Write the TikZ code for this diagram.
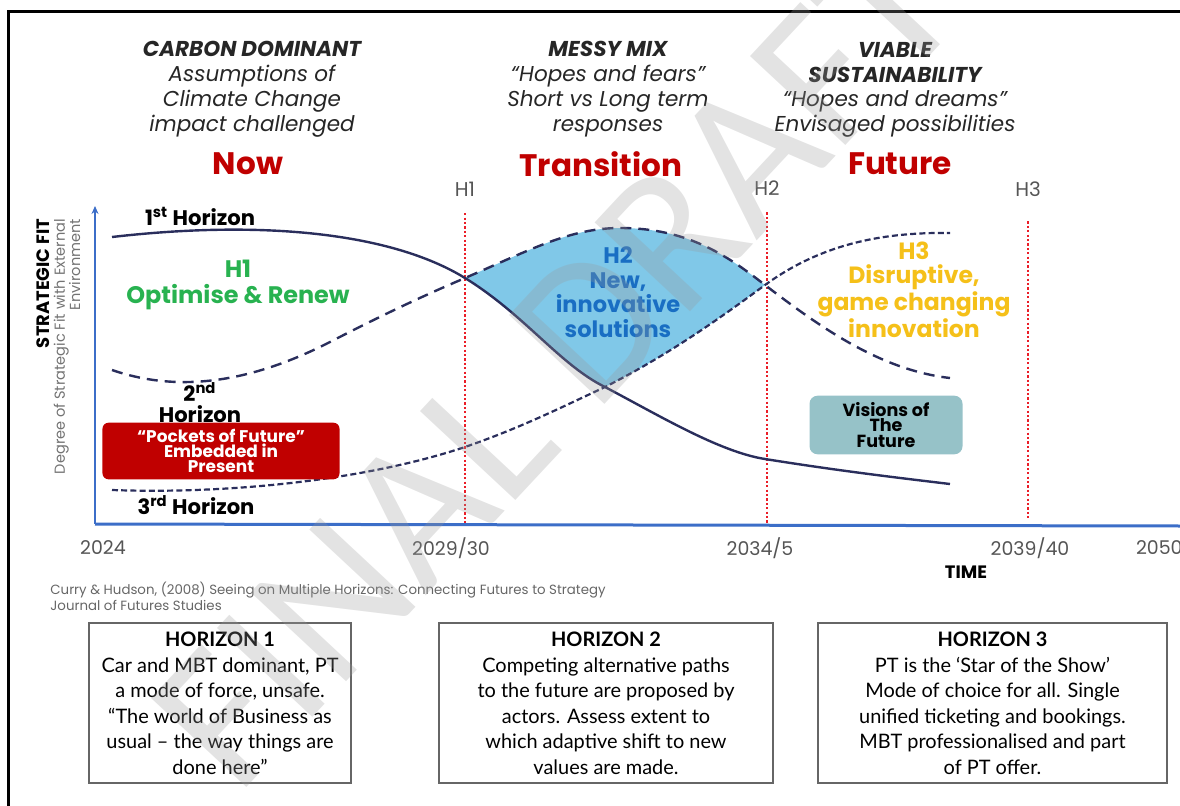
\documentclass[tikz,border=0pt]{standalone}
\usepackage{fontspec}
\setmainfont{Poppins}
\newfontfamily\boxfont{Lato}
\newfontfamily\markfont{Carlito}
\usetikzlibrary{arrows.meta}

\definecolor{curvenavy}{RGB}{42,46,92}
\definecolor{phasered}{RGB}{192,0,0}
\definecolor{dotred}{RGB}{235,30,40}
\definecolor{axisblue}{RGB}{60,110,200}
\definecolor{fillblue}{RGB}{128,200,232}
\definecolor{optgreen}{RGB}{40,178,80}
\definecolor{newblue}{RGB}{25,110,195}
\definecolor{disamber}{RGB}{245,192,25}
\definecolor{visionteal}{RGB}{150,194,200}
\definecolor{yeargray}{RGB}{85,85,85}

\tikzset{
  phase/.style={align=center, text=black!85, font=\fontsize{10.8}{12.5}\selectfont\itshape},
  era/.style={text=phasered, font=\fontsize{15.6}{16}\selectfont\bfseries},
  hmark/.style={text=yeargray, font=\fontsize{10}{12}\selectfont},
  hline/.style={dotred, line width=1.2bp, dash pattern=on 1.1bp off 1.1bp},
  first/.style={curvenavy, line width=1.2bp},
  second/.style={curvenavy, line width=1.2bp, dash pattern=on 5.5bp off 3.5bp},
  third/.style={curvenavy, line width=1.1bp, dash pattern=on 3bp off 1.6bp},
  horizon/.style={align=center, font=\fontsize{10.6}{7.6}\selectfont\bfseries},
  year/.style={text=yeargray, font=\fontsize{9.5}{12}\selectfont},
  hbox/.style={draw=black!60, line width=1bp, anchor=north west, align=center,
    inner sep=2bp, minimum height=80bp, text depth=0pt,
    font=\boxfont\fontsize{10}{12.8}\selectfont}
}

\begin{document}
\begin{tikzpicture}[x=0.5bp, y=-0.5bp]
  \useasboundingbox (0,0) rectangle (1180,805);
  \draw[line width=1.5bp] (8,11) rectangle (1200,830);

  % phase headings
  \node[phase, anchor=north] (carbon) at (252,34) {{\bfseries CARBON DOMINANT}\\Assumptions of\\Climate Change\\impact challenged};
  \node[phase, anchor=north] (messy) at (608,34) {{\bfseries MESSY MIX}\\“Hopes and fears”\\Short vs Long term\\responses};
  \node[phase, anchor=north] (viable) at (895,35) {{\bfseries VIABLE}\\{\bfseries SUSTAINABILITY}\\“Hopes and dreams”\\Envisaged possibilities};

  \node[era] (now) at (248,164) {Now};
  \node[era] (transition) at (601,164) {Transition};
  \node[era] (future) at (900,164) {Future};

  \node[hmark] (h1mark) at (465,189) {H1};
  \node[hmark] (h2mark) at (767,188) {H2};
  \node[hmark] (h3mark) at (1028,189) {H3};

  % axes
  \coordinate (o) at (95,524);
  \coordinate (yend) at (95,206);
  \coordinate (xend) at (1185,526);
  \draw[axisblue, line width=1.3bp, -{Stealth[length=4bp, width=3.5bp]}] (o) -- (yend);
  \draw[axisblue, line width=1.5bp] (o) -- (xend);

  \node[rotate=90, anchor=north east, align=right, text=black!55, font=\fontsize{7.3}{7.6}\selectfont] (fitlabel) at (30,212)
    {{\color{black}\fontsize{9}{9}\selectfont\bfseries STRATEGIC FIT}\\Degree of Strategic Fit with External\\Environment};

  % shaded H2 region between the curves
  \coordinate (x12) at (465,278);
  \coordinate (x23) at (765,285);
  \coordinate (x13) at (605,387);
  \fill[fillblue] (x12) .. controls (530,250) and (570,228) .. (620,228) .. controls (690,228) and (730,258) .. (x23)
    .. controls (720,318) and (670,354) .. (x13) .. controls (560,365) and (525,315) .. (x12) -- cycle;

  \draw[hline] ([yshift=-5bp]h1mark.south) -- (h1mark.south |- o);
  \draw[hline] ([yshift=-5bp]h2mark.south) -- (h2mark.south |- o);
  \draw[hline] ([yshift=-9bp]h3mark.south) -- ([yshift=2bp]h3mark.south |- o);

  % the three horizon curves
  \draw[first] (112,237) .. controls (260,220) and (390,232) .. (x12) .. controls (525,315) and (560,365) .. (x13)
    .. controls (660,416) and (720,452) .. (765,459) .. controls (840,471) and (900,478) .. (950,484);
  \draw[second] (112,370) .. controls (170,390) and (240,388) .. (330,342) .. controls (390,311) and (430,293) .. (x12)
    .. controls (530,250) and (570,228) .. (620,228) .. controls (690,228) and (730,258) .. (x23)
    .. controls (820,327) and (880,370) .. (950,378);
  \draw[third] (112,490) .. controls (220,494) and (360,482) .. (465,447) .. controls (520,428) and (560,408) .. (x13)
    .. controls (670,354) and (720,318) .. (x23) .. controls (820,245) and (880,232) .. (950,233);

  \node[horizon] (hor1) at (200,216) {1\textsuperscript{st} Horizon};
  \node[horizon] (hor2) at (200,403) {2\textsuperscript{nd}\\[1bp]Horizon};
  \node[horizon] (hor3) at (196,505) {3\textsuperscript{rd} Horizon};

  \node[align=center, text=optgreen, font=\fontsize{12}{13}\selectfont\bfseries] (optimise) at (238,285) {H1\\Optimise \& Renew};
  \node[align=center, text=newblue, font=\fontsize{11.3}{12.3}\selectfont\bfseries] (newsol) at (618,292) {H2\\New,\\innovative\\solutions};
  \node[align=center, text=disamber, font=\fontsize{11.8}{12}\selectfont\bfseries] (disrupt) at (914,290) {H3\\Disruptive,\\game changing\\innovation};

  \node[fill=phasered, rounded corners=3bp, minimum width=118.5bp, minimum height=26bp, align=center,
    text=white, font=\fontsize{8.5}{7.5}\selectfont\bfseries] (pockets) at (221,451) {“Pockets of Future”\\Embedded in\\Present};
  \node[fill=visionteal, rounded corners=4bp, minimum width=76.5bp, minimum height=27.5bp, align=center,
    font=\fontsize{8.8}{7.8}\selectfont\bfseries] (visions) at (886,425) {Visions of\\The\\Future};

  % time axis labels
  \node[year] (y2024) at (103,548) {2024};
  \node[year] (y2029) at (451,548) {2029/30};
  \node[year] (y2034) at (760,548) {2034/5};
  \node[year] (y2039) at (1030,548) {2039/40};
  \node[year, anchor=west] (y2050) at (1129,548) {2050};
  \node[font=\fontsize{9}{10}\selectfont\bfseries] (time) at (966,572) {TIME};

  \node[anchor=north west, align=left, text=black!60, font=\fontsize{6.7}{6.4}\selectfont, inner sep=0pt] (source) at (50,582)
    {Curry \& Hudson, (2008) Seeing on Multiple Horizons: Connecting Futures to Strategy\\Journal of Futures Studies};

  % horizon descriptions
  \node[hbox, minimum width=131bp] (desc1) at (88,622) {\textbf{HORIZON 1}\\Car and MBT dominant, PT\\a mode of force, unsafe.\\“The world of Business as\\usual – the way things are\\done here”};
  \node[hbox, minimum width=167bp] (desc2) at (438,622) {\textbf{HORIZON 2}\\Competing alternative paths\\to the future are proposed by\\actors. Assess extent to\\which adaptive shift to new\\values are made.};
  \node[hbox, minimum width=174.5bp] (desc3) at (817,622) {\textbf{HORIZON 3}\\PT is the ‘Star of the Show’\\Mode of choice for all. Single\\unified ticketing and bookings.\\MBT professionalised and part\\of PT offer.};

  \node[rotate=47, text=black!40, opacity=0.28, font=\markfont\fontsize{102}{100}\selectfont] (draft) at (555,362) {FINAL DRAFT};
\end{tikzpicture}
\end{document}
